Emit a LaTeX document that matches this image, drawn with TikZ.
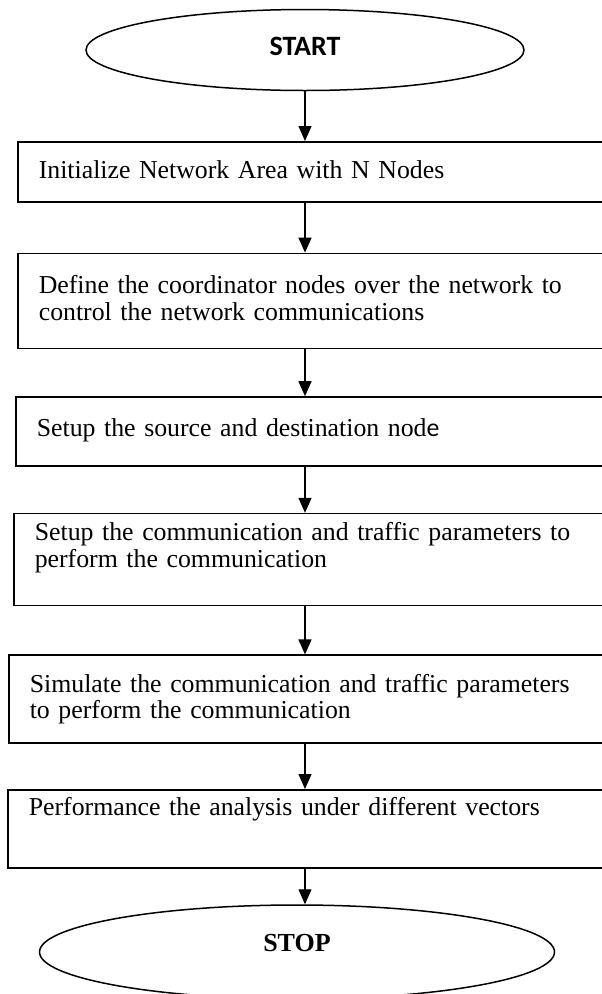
\documentclass[tikz,border=0pt]{standalone}
\usepackage{fontspec}
\setmainfont{Liberation Serif}
\setsansfont{Carlito}
\usetikzlibrary{arrows.meta,positioning,shapes.geometric}
\tikzset{
terminal/.style={ellipse,draw=black,line width=1.5pt,inner sep=0pt},
stepbox/.style 2 args={rectangle,draw=black,line width=1.6pt,align=left,text width=590pt,inner xsep=21pt,inner ysep=0pt,text height=#1,text depth=#2,font=\fontsize{25.8}{26.6}\selectfont},
arrow/.style={-{Triangle[length=15pt,width=13pt]},line width=1.4pt,draw=black}
}

\begin{document}
\begin{tikzpicture}[x=1pt,y=-1pt]
\useasboundingbox (0,0) rectangle (602,994);
\node[terminal,minimum width=438pt,minimum height=81pt,text height=18pt,text depth=7pt,font=\sffamily\bfseries\fontsize{28}{32}\selectfont] (start) at (305,50) {START};
\node[stepbox={37pt}{23pt},anchor=north west] (init) at (17,141) {Initialize Network Area with N Nodes};
\node[stepbox={40pt}{55pt},below right=50pt and 0pt of init.south west] (define) {Define the coordinator nodes over the network to\\control the network communications};
\node[stepbox={39pt}{30pt},below right=47pt and -2pt of define.south west] (srcdst) {Setup the source and destination nod{\sffamily e}};
\node[stepbox={27pt}{65pt},below right=46pt and -2pt of srcdst.south west] (setup) {Setup the communication and traffic parameters to\\perform the communication};
\node[stepbox={37pt}{51pt},below right=48pt and -5pt of setup.south west] (simul) {Simulate the communication and traffic parameters\\to perform the communication};
\node[stepbox={26pt}{52pt},below right=45pt and -1pt of simul.south west] (perf) {Performance the analysis under different vectors};
\node[terminal,minimum width=515pt,minimum height=94pt,text height=17pt,text depth=19pt,font=\bfseries\fontsize{26}{30}\selectfont] (stop) at (297,952) {STOP};
\draw[arrow] (start) -- (start |- init.north);
\draw[arrow] (init.south -| start) -- (define.north -| start);
\draw[arrow] (define.south -| start) -- (srcdst.north -| start);
\draw[arrow] (srcdst.south -| start) -- (setup.north -| start);
\draw[arrow] (setup.south -| start) -- (simul.north -| start);
\draw[arrow] (simul.south -| start) -- (perf.north -| start);
\draw[arrow] (perf.south -| start) -- (start |- stop.north);
\end{tikzpicture}
\end{document}
